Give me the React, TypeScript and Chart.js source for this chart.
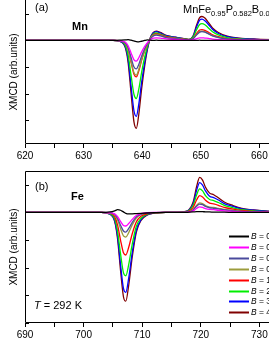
import React, { useEffect, useRef } from 'react';
import { Chart, registerables } from 'chart.js';
Chart.register(...registerables);

const FONT = "Arial, 'Liberation Sans', Helvetica, sans-serif";

const Y_TITLE = 'XMCD (arb.units)';
const FIELD_LABELS = ['0 T', '0.2 T', '0.5 T', '0.8 T', '1 T', '2 T', '3 T', '4 T'];
const SERIES_COLORS = ['#000000', '#ff00ff', '#4a4a9c', '#9c9c3c', '#ff0000', '#00ee00', '#0000ff', '#800000'];
const PANEL_LABELS = ['(a)', '(b)'];
const ELEMENTS = ['Mn', 'Fe'];
const TEMPERATURE = '292 K';
const FORMULA = [
  ['MnFe', '0.95'],
  ['P', '0.582'],
  ['B', '0.078'],
  ['Si', '0.34'],
];

const MN_X_TICKS = [620, 670];
const FE_X_TICKS = [690, 740];

// Mn L2,3 edge
const MN_ENERGY = [620, 630, 635, 636.1, 637.1, 637.6, 638.1, 638.6, 639.0, 639.4, 639.9, 640.4, 640.9, 641.4, 641.9, 642.4, 643.1, 644.1, 645.6, 647.1, 648.0, 648.7, 649.3, 649.8, 650.2, 650.7, 651.3, 652.0, 653.0, 654.5, 656.5, 659.5, 665, 670];
const MN_0T = [0, 0, 0, 0.01, 0.02, 0.03, 0.01, -0.02, -0.04, -0.05, -0.03, 0, 0.02, 0.01, 0, 0.01, 0, 0, 0, 0, 0, 0, 0, 0.01, 0, 0, 0, 0, 0, 0, 0, 0, 0, 0];
const MN_02T = [0, 0, 0, -0.01, -0.06, -0.2, -0.47, -0.73, -0.78, -0.66, -0.43, -0.23, -0.08, 0.03, 0.09, 0.1, 0.09, 0.06, 0.04, 0.02, 0.01, 0.02, 0.07, 0.1, 0.1, 0.09, 0.08, 0.05, 0.03, 0.02, 0.01, 0.01, 0, 0];
const MN_05T = [0, 0, 0, -0.01, -0.09, -0.27, -0.64, -1.0, -1.07, -0.91, -0.59, -0.32, -0.11, 0.06, 0.17, 0.2, 0.17, 0.11, 0.07, 0.04, 0.02, 0.07, 0.21, 0.31, 0.33, 0.31, 0.25, 0.17, 0.11, 0.06, 0.03, 0.02, 0.01, 0];
const MN_08T = [0, 0, 0, -0.01, -0.1, -0.33, -0.78, -1.21, -1.3, -1.1, -0.72, -0.39, -0.13, 0.07, 0.19, 0.22, 0.19, 0.12, 0.08, 0.04, 0.02, 0.07, 0.23, 0.33, 0.35, 0.33, 0.26, 0.18, 0.12, 0.06, 0.04, 0.02, 0.01, 0];
const MN_1T = [0, 0, 0, -0.01, -0.11, -0.34, -0.82, -1.27, -1.37, -1.16, -0.75, -0.41, -0.14, 0.07, 0.21, 0.25, 0.21, 0.14, 0.09, 0.05, 0.02, 0.08, 0.27, 0.39, 0.41, 0.38, 0.31, 0.21, 0.14, 0.07, 0.04, 0.02, 0.01, 0];
const MN_2T = [0, 0, 0, -0.02, -0.17, -0.55, -1.31, -2.03, -2.18, -1.85, -1.2, -0.65, -0.22, 0.08, 0.24, 0.28, 0.24, 0.15, 0.1, 0.06, 0.03, 0.13, 0.41, 0.6, 0.63, 0.59, 0.47, 0.33, 0.21, 0.11, 0.06, 0.03, 0.01, 0];
const MN_3T = [0, 0, 0, -0.03, -0.23, -0.71, -1.71, -2.65, -2.85, -2.42, -1.57, -0.86, -0.29, 0.1, 0.28, 0.33, 0.28, 0.18, 0.12, 0.07, 0.03, 0.16, 0.52, 0.76, 0.8, 0.74, 0.6, 0.42, 0.26, 0.14, 0.08, 0.04, 0.02, 0];
const MN_4T = [0, 0, 0, -0.03, -0.26, -0.83, -1.98, -3.07, -3.3, -2.81, -1.82, -0.99, -0.33, 0.11, 0.3, 0.35, 0.3, 0.19, 0.12, 0.07, 0.04, 0.18, 0.59, 0.86, 0.9, 0.84, 0.68, 0.47, 0.3, 0.16, 0.09, 0.05, 0.02, 0];

// Fe L2,3 edge
const FE_ENERGY = [690, 700, 703, 704.5, 705.3, 705.8, 706.3, 706.8, 707.2, 707.7, 708.3, 709, 709.8, 710.8, 712, 714, 716, 717.2, 718, 718.7, 719.3, 719.8, 720.3, 720.8, 721.5, 722.2, 723, 724, 725.5, 727, 729, 732, 736, 740];
const FE_0T = [0, 0, 0, 0.02, 0.06, 0.1, 0.08, 0.02, -0.03, -0.05, -0.05, -0.04, -0.03, -0.02, -0.01, 0, 0, 0, 0.01, 0.02, 0.03, 0.03, 0.03, 0.02, 0.02, 0.01, 0.01, 0.01, 0, 0, 0, 0, 0, 0];
const FE_02T = [0, 0, 0, -0.01, -0.05, -0.15, -0.32, -0.47, -0.49, -0.4, -0.25, -0.11, -0.04, -0.01, 0, 0, 0, 0, 0.02, 0.06, 0.15, 0.2, 0.18, 0.14, 0.11, 0.1, 0.08, 0.06, 0.04, 0.02, 0.01, 0.01, 0, 0];
const FE_05T = [0, 0, 0, -0.01, -0.07, -0.21, -0.46, -0.67, -0.71, -0.58, -0.36, -0.16, -0.06, -0.02, -0.01, 0, 0, 0.01, 0.02, 0.09, 0.23, 0.3, 0.28, 0.22, 0.17, 0.15, 0.13, 0.09, 0.06, 0.04, 0.02, 0.01, 0, 0];
const FE_08T = [0, 0, 0, -0.02, -0.09, -0.27, -0.58, -0.85, -0.89, -0.73, -0.45, -0.2, -0.08, -0.03, -0.01, 0, 0, 0.01, 0.03, 0.11, 0.26, 0.35, 0.32, 0.25, 0.19, 0.18, 0.15, 0.11, 0.07, 0.04, 0.02, 0.01, 0, 0];
const FE_1T = [0, 0, 0, -0.03, -0.15, -0.46, -1.0, -1.46, -1.54, -1.26, -0.77, -0.34, -0.14, -0.05, -0.02, 0, 0, 0.01, 0.05, 0.18, 0.46, 0.61, 0.56, 0.44, 0.34, 0.31, 0.26, 0.18, 0.12, 0.07, 0.04, 0.02, 0.01, 0];
const FE_2T = [0, 0, 0, -0.05, -0.23, -0.69, -1.49, -2.18, -2.29, -1.88, -1.15, -0.5, -0.21, -0.07, -0.02, 0, 0, 0.02, 0.07, 0.26, 0.64, 0.85, 0.78, 0.61, 0.47, 0.43, 0.36, 0.26, 0.17, 0.1, 0.06, 0.03, 0.01, 0];
const FE_3T = [0, 0, 0, -0.06, -0.29, -0.87, -1.88, -2.75, -2.89, -2.37, -1.45, -0.64, -0.26, -0.09, -0.03, 0, 0, 0.02, 0.09, 0.32, 0.81, 1.08, 0.99, 0.78, 0.59, 0.54, 0.45, 0.32, 0.22, 0.13, 0.08, 0.03, 0.01, 0];
const FE_4T = [0, 0, 0, -0.06, -0.32, -0.96, -2.09, -3.05, -3.21, -2.63, -1.61, -0.71, -0.29, -0.1, -0.03, 0, 0, 0.03, 0.1, 0.38, 0.95, 1.27, 1.17, 0.91, 0.7, 0.64, 0.53, 0.38, 0.25, 0.15, 0.09, 0.04, 0.01, 0];

const MN_SERIES = [MN_0T, MN_02T, MN_05T, MN_08T, MN_1T, MN_2T, MN_3T, MN_4T];
const FE_SERIES = [FE_0T, FE_02T, FE_05T, FE_08T, FE_1T, FE_2T, FE_3T, FE_4T];

const MN_Y_RANGE = [-3.89, 1.52];
const FE_Y_RANGE = [-4.0, 1.5];

function framePlugin(showTop: boolean) {
  return {
    id: 'frame' + (showTop ? 'T' : 'N'),
    afterDatasetsDraw(chart: any) {
      const { ctx, chartArea: a, scales } = chart;
      ctx.save();
      ctx.strokeStyle = '#000';
      ctx.lineWidth = 1;
      ctx.beginPath();
      const l = Math.round(a.left) + 0.5;
      const r = Math.round(a.right) - 0.5;
      const b = Math.round(a.bottom) - 0.5;
      const t = Math.round(a.top) + 0.5;
      if (showTop) {
        ctx.moveTo(l, t);
        ctx.lineTo(r, t);
        ctx.lineTo(r, b);
      } else {
        ctx.moveTo(r, a.top);
        ctx.lineTo(r, b);
      }
      ctx.lineTo(l, b);
      ctx.lineTo(l, showTop ? t : a.top);
      ctx.stroke();
      // inward y ticks
      const ys = scales.y;
      ctx.beginPath();
      for (let v = Math.ceil(ys.min); v <= Math.floor(ys.max); v++) {
        const py = Math.round(ys.getPixelForValue(v)) + 0.5;
        ctx.moveTo(a.left, py);
        ctx.lineTo(a.left + 4, py);
      }
      ctx.stroke();
      ctx.restore();
    },
  };
}

const textPluginA = {
  id: 'textA',
  afterDraw(chart: any) {
    const { ctx, chartArea: a } = chart;
    ctx.save();
    ctx.fillStyle = '#000';
    ctx.textBaseline = 'alphabetic';
    ctx.font = `11px ${FONT}`;
    ctx.fillText(PANEL_LABELS[0], a.left + 10, a.top + 11);
    ctx.font = `bold 11px ${FONT}`;
    ctx.fillText(ELEMENTS[0], a.left + 47, a.top + 30);
    let x = a.left + 158;
    for (const [main, sub] of FORMULA) {
      ctx.font = `11px ${FONT}`;
      ctx.fillText(main, x, a.top + 13);
      x += ctx.measureText(main).width;
      ctx.font = `7.5px ${FONT}`;
      ctx.fillText(sub, x, a.top + 16);
      x += ctx.measureText(sub).width;
    }
    ctx.restore();
  },
};

const textPluginB = {
  id: 'textB',
  afterDraw(chart: any) {
    const { ctx, chartArea: a } = chart;
    ctx.save();
    ctx.fillStyle = '#000';
    ctx.textBaseline = 'alphabetic';
    ctx.font = `11px ${FONT}`;
    ctx.fillText(PANEL_LABELS[1], a.left + 10, a.top + 19);
    ctx.font = `bold 11px ${FONT}`;
    ctx.fillText(ELEMENTS[1], a.left + 46, a.top + 29);
    ctx.font = `italic 11px ${FONT}`;
    ctx.fillText('T', a.left + 9, a.top + 138);
    const tw = ctx.measureText('T').width;
    ctx.font = `11px ${FONT}`;
    ctx.fillText(' = ' + TEMPERATURE, a.left + 9 + tw, a.top + 138);
    // legend
    ctx.textBaseline = 'middle';
    chart.data.datasets.forEach((ds: any, i: number) => {
      const y = Math.round(a.top + 65 + i * 10.9) + 0.5;
      ctx.strokeStyle = ds.borderColor;
      ctx.lineWidth = 2;
      ctx.beginPath();
      ctx.moveTo(a.left + 204, y);
      ctx.lineTo(a.left + 224, y);
      ctx.stroke();
      ctx.font = `italic 8.5px ${FONT}`;
      ctx.fillText('B', a.left + 226, y);
      const bw = ctx.measureText('B').width;
      ctx.font = `8.5px ${FONT}`;
      ctx.fillText(' = ' + FIELD_LABELS[i], a.left + 226 + bw, y);
    });
    ctx.restore();
  },
};

function buildConfig(energy: number[], series: number[][], xr: number[], yr: number[], padTop: number, plugins: any[]) {
  return {
    type: 'line' as const,
    data: {
      datasets: series.map((vals, i) => ({
        label: 'B = ' + FIELD_LABELS[i],
        data: energy.map((e, j) => ({ x: e, y: vals[j] })),
        borderColor: SERIES_COLORS[i],
        borderWidth: 1.3,
        pointRadius: 0,
        cubicInterpolationMode: 'monotone' as const,
        fill: false,
      })),
    },
    options: {
      animation: false as const,
      responsive: false,
      events: [],
      layout: { padding: { left: 4, right: 12, top: padTop, bottom: 0 } },
      plugins: { legend: { display: false }, tooltip: { enabled: false }, title: { display: false } },
      scales: {
        x: {
          type: 'linear' as const,
          min: xr[0],
          max: xr[1],
          border: { display: false },
          grid: { display: true, drawOnChartArea: false, drawTicks: true, tickLength: 4, color: '#000' },
          ticks: {
            stepSize: 5,
            autoSkip: false,
            maxRotation: 0,
            padding: 2,
            color: '#000',
            font: { family: FONT, size: 10 },
            callback: (v: any) => (Number(v) % 10 === 0 ? String(v) : ''),
          },
        },
        y: {
          type: 'linear' as const,
          min: yr[0],
          max: yr[1],
          border: { display: false },
          grid: { display: false, drawTicks: false },
          ticks: { display: false },
          title: { display: true, text: Y_TITLE, color: '#000', font: { family: FONT, size: 10 }, padding: { top: 4, bottom: 5 } },
        },
      },
    },
    plugins,
  };
}

export default function App() {
  const refA = useRef<HTMLCanvasElement>(null);
  const refB = useRef<HTMLCanvasElement>(null);
  useEffect(() => {
    const a = new Chart(refA.current!, buildConfig(MN_ENERGY, MN_SERIES, MN_X_TICKS, MN_Y_RANGE, 0, [framePlugin(false), textPluginA]) as any);
    const b = new Chart(refB.current!, buildConfig(FE_ENERGY, FE_SERIES, FE_X_TICKS, FE_Y_RANGE, 5, [framePlugin(true), textPluginB]) as any);
    return () => {
      a.destroy();
      b.destroy();
    };
  }, []);
  return (
    <div style={{ position: 'fixed', left: 0, top: 0, width: 269, height: 348, overflow: 'hidden', background: '#fff' }}>
      <canvas ref={refA} width={330} height={164} style={{ position: 'absolute', left: 0, top: 0 }} />
      <canvas ref={refB} width={330} height={177} style={{ position: 'absolute', left: 0, top: 166 }} />
    </div>
  );
}
